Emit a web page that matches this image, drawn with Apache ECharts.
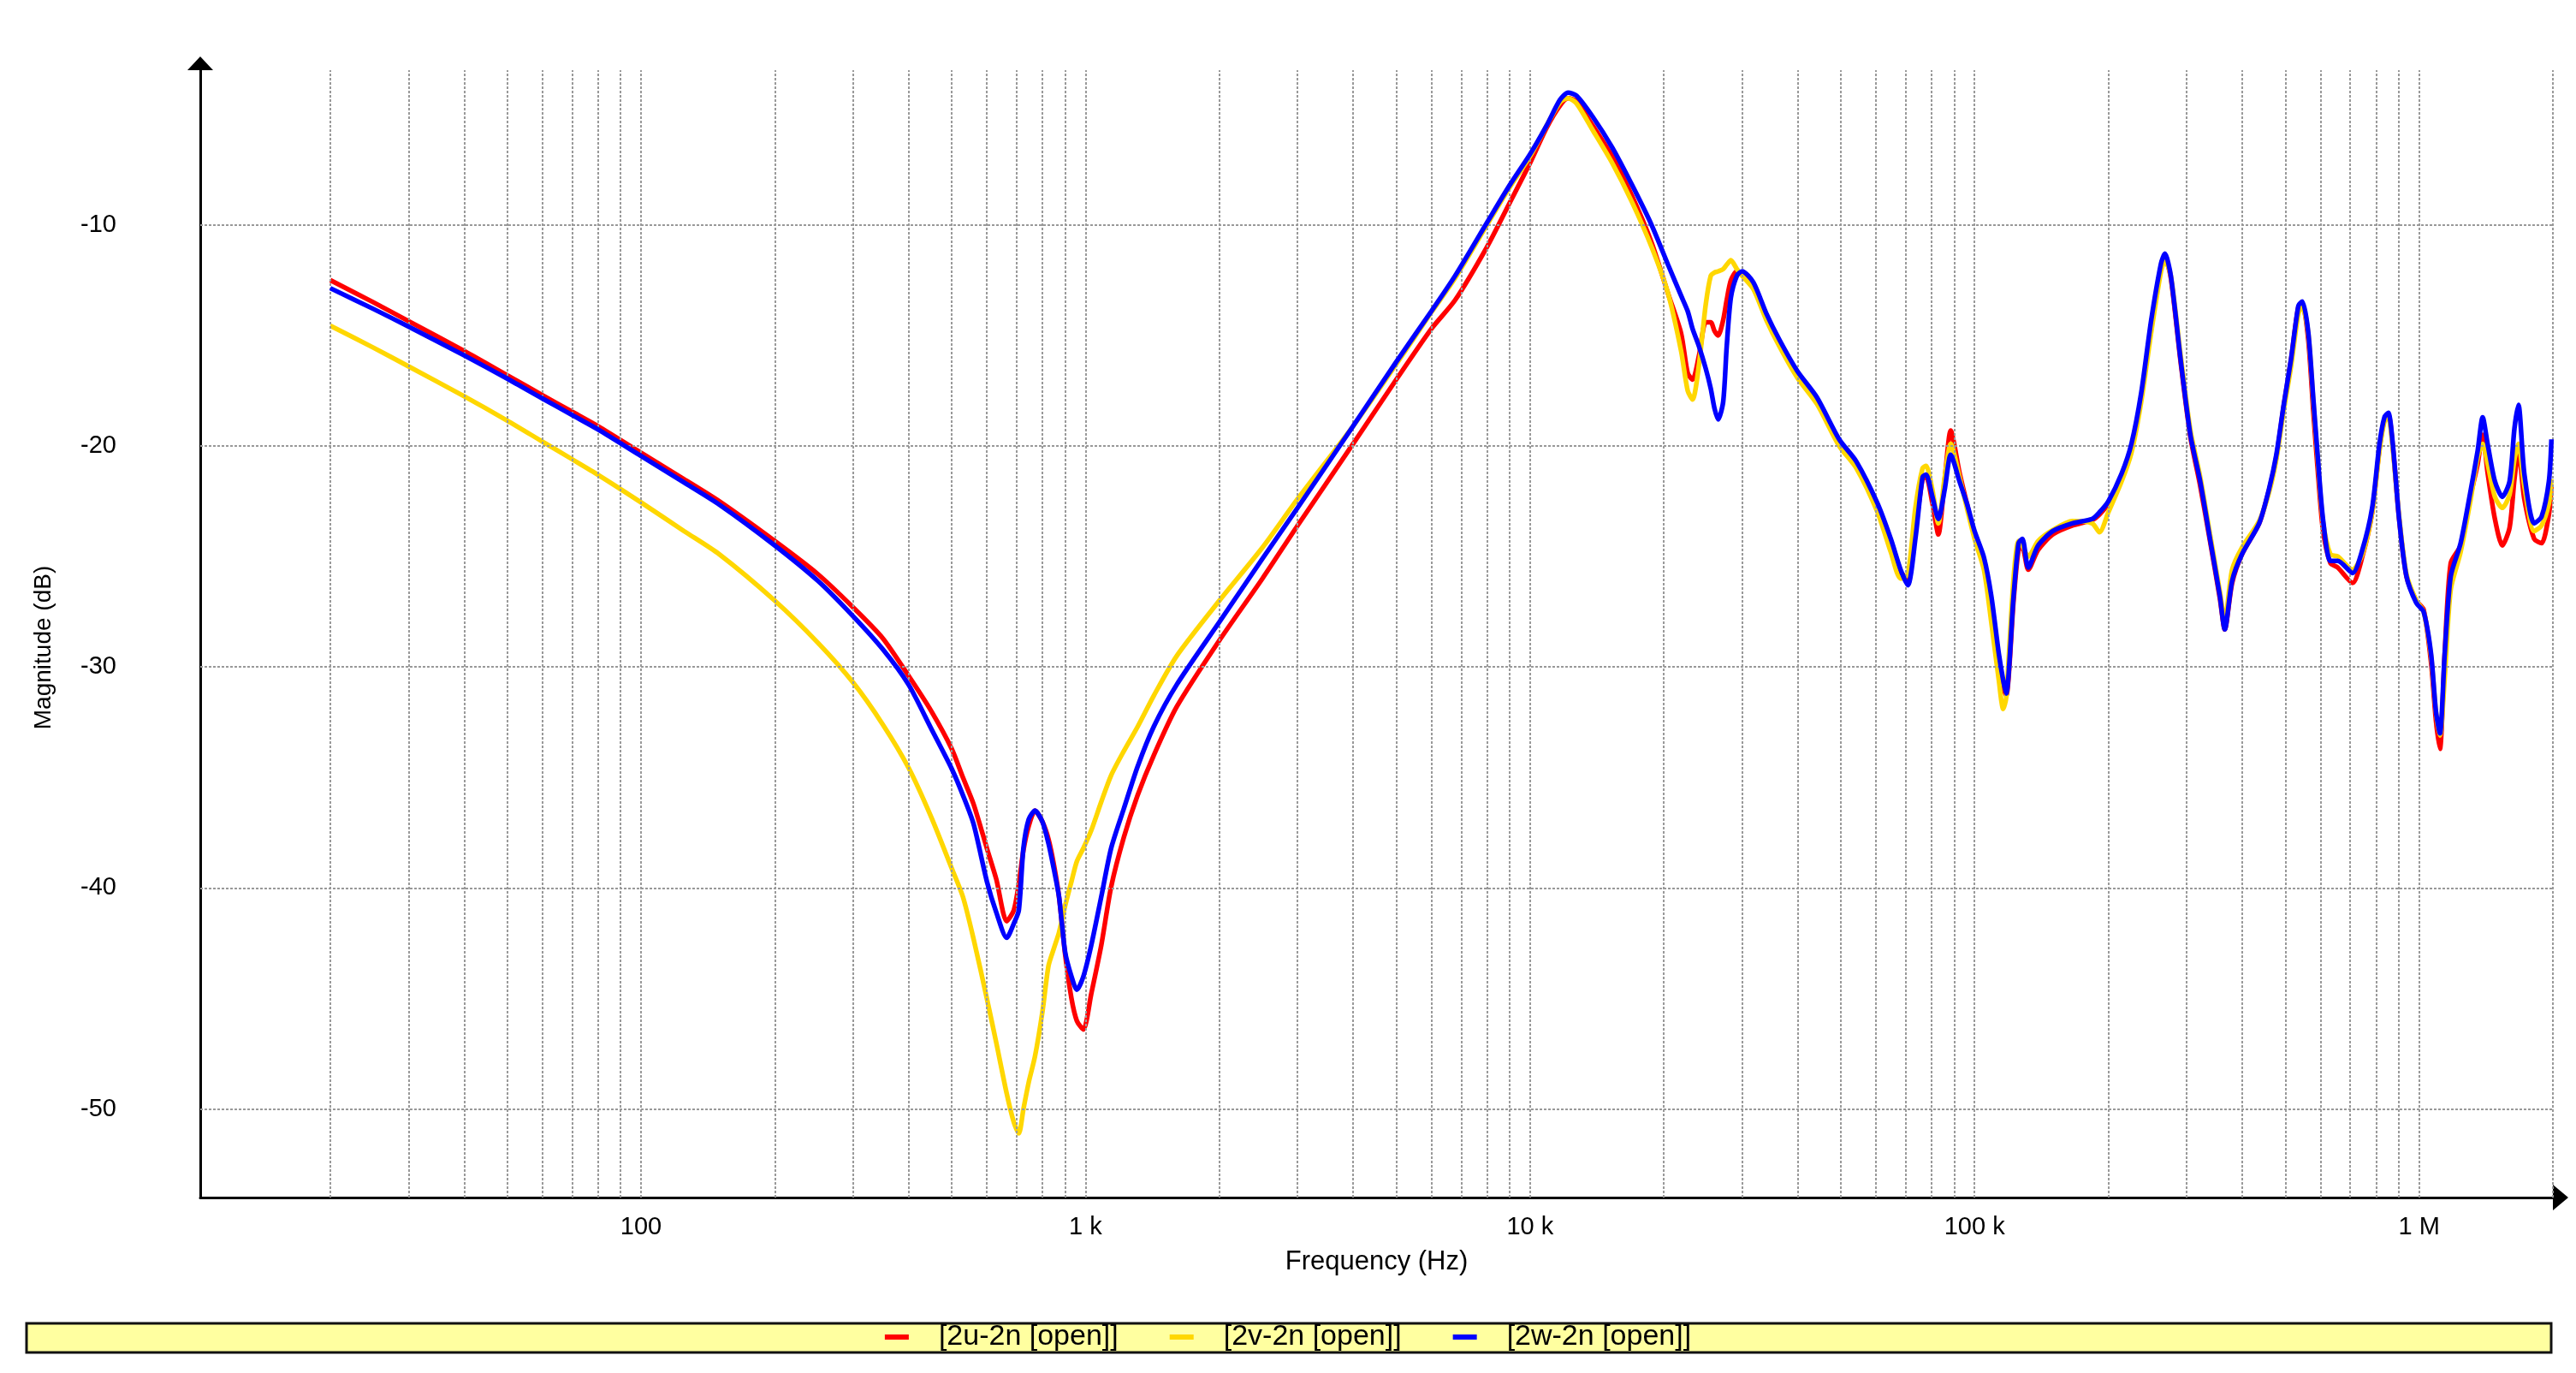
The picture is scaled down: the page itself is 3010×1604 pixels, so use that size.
<!DOCTYPE html>
<html>
<head>
<meta charset="utf-8">
<script src="https://cdn.jsdelivr.net/npm/echarts@6/dist/echarts.min.js"></script>
<style>
html,body{margin:0;padding:0;background:#ffffff;}
#chart{width:3010px;height:1604px;}
</style>
</head>
<body>
<div id="chart"></div>
<script>
// Frequencies (Hz) shared by the three traces
const freqHz = [20,25,30,40,50,60,70,80,100,125,150,200,250,300,350,400,450,500,530,560,600,630,665,690,708,725,745,770,800,826,850,872,900,930,956,989,1030,1085,1142,1220,1310,1424,1604,2000,2500,3000,4000,5000,6000,6785,8000,9000,10000,10900,11680,12180,12720,13830,15310,16970,18770,20440,21870,22630,23210,24000,24850,25500,26000,26500,27200,27700,28300,29200,30000,31800,34000,36400,39900,44200,49600,54200,60500,64800,68200,70800,73600,76400,77800,80400,82900,85700,88400,92500,96100,100000,105000,109100,113400,116000,117800,122400,125600,128100,132100,139000,150000,166000,183900,191000,200000,214200,225400,237100,249500,262700,268100,276400,290800,305900,321800,338600,356400,365500,379700,399500,436800,459600,477400,496000,515200,535300,546300,563300,577900,592700,607900,631600,656200,708400,745400,784300,814700,835700,852800,872600,901800,936800,985600,1024000,1064000,1091000,1114000,1142000,1178000,1240000,1304000,1355000,1390000,1426000,1481000,1539000,1598000,1639000,1673000,1725000,1815000,1886000,1959000,1985000];

// [2u-2n [open]] (red)
const magU = [-12.5,-13.5,-14.35,-15.7,-16.8,-17.7,-18.45,-19.1,-20.3,-21.5,-22.5,-24.3,-25.8,-27.3,-28.7,-30.4,-32.0,-33.7,-35.0,-36.2,-38.2,-39.6,-41.5,-41.0,-39.8,-38.3,-37.2,-36.5,-37.0,-37.8,-39.0,-40.4,-43.0,-45.0,-46.0,-46.4,-44.8,-42.6,-39.95,-37.7,-35.8,-34.0,-31.8,-28.8,-26.0,-23.6,-19.9,-17.0,-14.7,-13.4,-11.0,-9.0,-7.2,-5.6,-4.6,-4.27,-4.4,-5.5,-6.9,-8.7,-10.8,-13.1,-14.9,-16.7,-17.0,-15.9,-14.4,-14.4,-14.8,-15.0,-14.3,-13.4,-12.5,-12.1,-12.2,-12.8,-14.1,-15.3,-16.7,-18.0,-19.8,-20.8,-22.8,-24.4,-25.7,-26.0,-23.8,-21.5,-21.4,-22.6,-24.0,-21.5,-19.3,-21.2,-22.6,-24.0,-25.2,-27.2,-29.8,-30.9,-31.3,-27.0,-24.7,-24.6,-25.6,-24.7,-24.0,-23.6,-23.35,-23.1,-22.6,-21.4,-20.1,-17.8,-14.6,-11.9,-11.5,-12.4,-16.2,-19.6,-21.8,-24.3,-26.9,-28.3,-26.2,-24.9,-23.5,-22.0,-20.5,-18.2,-16.1,-13.7,-13.6,-15.2,-18.4,-21.3,-23.8,-25.3,-25.5,-26.2,-25.0,-23.0,-20.1,-18.8,-18.6,-20.0,-23.3,-25.9,-27.0,-27.4,-29.8,-32.4,-33.7,-29.4,-25.3,-24.5,-22.3,-20.8,-19.5,-21.2,-23.3,-24.5,-23.7,-21.5,-20.2,-22.4,-24.2,-24.4,-23.1,-21.8];

// [2v-2n [open]] (yellow)
const magV = [-14.56,-15.55,-16.4,-17.75,-18.85,-19.8,-20.6,-21.3,-22.55,-23.85,-24.9,-27.0,-28.9,-30.7,-32.6,-34.56,-36.8,-39.1,-40.4,-42.3,-45.0,-47.0,-49.3,-50.6,-51.1,-50.0,-48.8,-47.6,-45.6,-43.5,-42.7,-42.0,-40.8,-39.7,-38.8,-38.2,-37.4,-36.1,-34.9,-33.8,-32.7,-31.3,-29.5,-27.0,-24.6,-22.4,-19.1,-16.3,-13.95,-12.4,-10.0,-8.3,-6.9,-5.5,-4.45,-4.27,-4.5,-5.7,-7.2,-8.98,-11.0,-13.1,-15.7,-17.5,-17.9,-16.3,-13.6,-12.3,-12.15,-12.1,-12.0,-11.8,-11.6,-12.0,-12.3,-12.9,-14.3,-15.5,-16.9,-18.1,-20.0,-21.0,-23.0,-24.8,-26.0,-25.8,-22.8,-21.0,-20.9,-22.0,-23.5,-21.4,-19.9,-21.4,-22.8,-24.2,-25.6,-28.0,-30.6,-31.9,-31.4,-26.0,-24.3,-24.5,-25.0,-24.3,-23.8,-23.4,-23.5,-23.9,-23.0,-21.6,-20.3,-18.0,-14.9,-12.1,-11.6,-12.3,-15.9,-19.3,-21.4,-24.0,-26.6,-27.9,-25.6,-24.6,-23.4,-22.1,-20.6,-18.4,-16.4,-14.0,-13.7,-14.9,-17.9,-20.8,-23.4,-24.9,-25.0,-25.6,-24.9,-23.0,-20.2,-18.9,-18.7,-20.1,-23.2,-25.8,-27.0,-27.5,-29.5,-32.0,-33.1,-30.5,-26.5,-24.8,-22.5,-20.5,-19.9,-20.8,-22.3,-22.8,-22.2,-20.6,-19.9,-21.8,-23.85,-23.6,-22.6,-21.5];

// [2w-2n [open]] (blue)
const magW = [-12.86,-13.8,-14.6,-15.9,-16.95,-17.85,-18.6,-19.25,-20.45,-21.65,-22.65,-24.5,-26.1,-27.7,-29.2,-30.8,-32.8,-34.6,-35.8,-37.1,-39.7,-41.1,-42.25,-41.6,-41.0,-38.2,-36.9,-36.5,-37.0,-38.0,-39.2,-40.4,-42.9,-44.0,-44.6,-44.0,-42.6,-40.4,-38.2,-36.4,-34.5,-32.7,-30.8,-27.97,-25.1,-22.8,-19.1,-16.2,-13.9,-12.3,-9.9,-8.2,-6.8,-5.5,-4.34,-4.02,-4.15,-5.1,-6.5,-8.2,-10.0,-11.8,-13.2,-13.9,-14.7,-15.5,-16.5,-17.4,-18.3,-18.8,-18.0,-15.5,-13.3,-12.3,-12.1,-12.6,-14.0,-15.2,-16.6,-17.8,-19.7,-20.7,-22.6,-24.2,-25.6,-26.3,-24.2,-21.4,-21.3,-22.3,-23.3,-21.95,-20.4,-21.6,-22.6,-23.85,-25.05,-26.8,-29.4,-30.6,-31.2,-26.8,-24.4,-24.2,-25.5,-24.5,-23.85,-23.5,-23.3,-23.0,-22.5,-21.25,-19.9,-17.6,-14.35,-11.74,-11.3,-12.3,-16.1,-19.5,-21.6,-24.2,-26.8,-28.3,-26.1,-24.9,-23.5,-21.95,-20.4,-18.14,-16.07,-13.65,-13.47,-14.86,-17.8,-20.7,-23.3,-25.2,-25.2,-25.75,-24.7,-22.8,-19.9,-18.7,-18.5,-19.9,-23.3,-25.9,-27.1,-27.5,-29.4,-32.0,-33.0,-29.4,-25.9,-24.4,-22.1,-20.2,-18.7,-19.9,-21.6,-22.3,-21.6,-19.2,-18.14,-21.26,-23.5,-23.2,-21.6,-19.7];

const seriesNames = ['[2u-2n [open]]', '[2v-2n [open]]', '[2w-2n [open]]'];
const seriesColors = ['#ff0000', '#ffd700', '#0000ff'];

// Axis ticks / gridlines
const xTicks = [100, 1000, 10000, 100000, 1000000];
const xTickLabels = ['100', '1 k', '10 k', '100 k', '1 M'];
const yTicks = [-10, -20, -30, -40, -50];
const xGridFreqs = [20,30,40,50,60,70,80,90,100,200,300,400,500,600,700,800,900,1000,2000,3000,4000,5000,6000,7000,8000,9000,10000,20000,30000,40000,50000,60000,70000,80000,90000,100000,200000,300000,400000,500000,600000,700000,800000,900000,1000000,2000000];

function zip(xs, ys) { return xs.map((x, i) => [x, ys[i]]); }
const FONT = "'Liberation Sans', Arial, sans-serif";

const chart = echarts.init(document.getElementById('chart'), null, {renderer: 'canvas'});

const magnitudes = [magU, magV, magW];
const traceSeries = seriesNames.map((name, i) => ({
  name: name,
  type: 'line',
  data: zip(freqHz, magnitudes[i]),
  symbol: 'none',
  showSymbol: false,
  smooth: 0.25,
  lineStyle: {color: seriesColors[i], width: 5.5},
  itemStyle: {color: seriesColors[i]},
  z: 3 + i,
  animation: false
}));

const gridSeries = {
  name: 'grid',
  type: 'line',
  data: [],
  z: 1,
  silent: true,
  animation: false,
  markLine: {
    silent: true,
    animation: false,
    symbol: ['none', 'none'],
    label: {show: false},
    lineStyle: {color: '#999999', width: 2, type: [3, 2]},
    data: xGridFreqs.map(f => ({xAxis: f})).concat(yTicks.map(v => ({yAxis: v})))
  }
};

const option = {
  backgroundColor: '#ffffff',
  animation: false,
  textStyle: {fontFamily: FONT},
  grid: {left: 234, right: 27, top: 82, bottom: 205, containLabel: false},
  xAxis: {
    type: 'log',
    logBase: 10,
    min: 10.2,
    max: 2000000,
    name: 'Frequency (Hz)',
    nameLocation: 'middle',
    nameGap: 60,
    nameTextStyle: {fontSize: 31, color: '#000', fontFamily: FONT},
    axisLine: {show: true, lineStyle: {color: '#000', width: 3},
      symbol: ['none', 'triangle'], symbolSize: [30, 18], symbolOffset: [0, 9]},
    axisTick: {show: false},
    splitLine: {show: false},
    minorTick: {show: false},
    axisLabel: {
      customValues: xTicks,
      fontSize: 29, color: '#000', fontFamily: FONT, margin: 20,
      formatter: function (v) {
        for (let i = 0; i < xTicks.length; i++) {
          if (Math.abs(Math.log10(v) - Math.log10(xTicks[i])) < 1e-6) return xTickLabels[i];
        }
        return '';
      }
    }
  },
  yAxis: {
    type: 'value',
    min: -54,
    max: -3,
    name: 'Magnitude (dB)',
    nameLocation: 'middle',
    nameGap: 169,
    nameTextStyle: {fontSize: 28, color: '#000', fontFamily: FONT, padding: [0, 32, 0, 0]},
    axisLine: {show: true, lineStyle: {color: '#000', width: 3},
      symbol: ['none', 'triangle'], symbolSize: [30, 16], symbolOffset: [0, 8]},
    axisTick: {show: false},
    splitLine: {show: false},
    axisLabel: {
      customValues: yTicks,
      fontSize: 29, color: '#000', fontFamily: FONT, margin: 98,
      formatter: function (v) { return yTicks.indexOf(v) >= 0 ? String(v) : ''; }
    }
  },
  legend: {
    data: seriesNames,
    left: 'center',
    top: 1545,
    padding: 0,
    itemGap: 60,
    itemWidth: 28,
    itemHeight: 6,
    icon: 'rect',
    textStyle: {fontSize: 34, color: '#000', fontFamily: FONT, padding: [0, 0, 0, 30]}
  },
  graphic: [{
    type: 'rect',
    z: -1,
    silent: true,
    shape: {x: 31, y: 1546, width: 2950, height: 34},
    style: {fill: '#ffffa0', stroke: '#111111', lineWidth: 3}
  }],
  series: [gridSeries].concat(traceSeries)
};

chart.setOption(option);
</script>
</body>
</html>
